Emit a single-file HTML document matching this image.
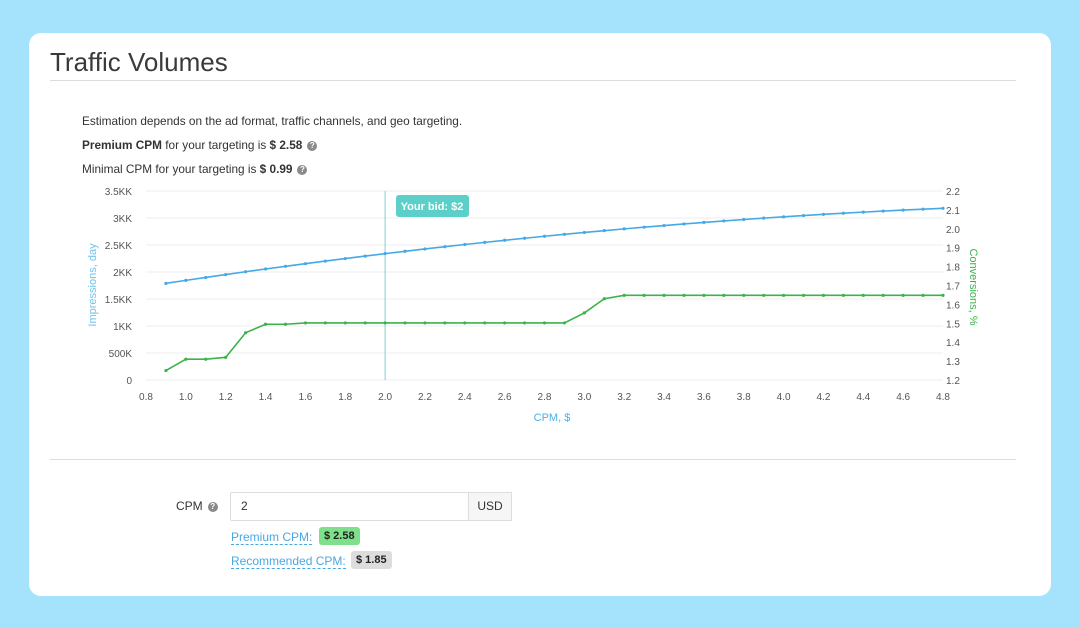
<!DOCTYPE html>
<html><head><meta charset="utf-8"><style>
body{margin:0;width:1080px;height:628px;background:#a5e3fc;font-family:"Liberation Sans",sans-serif;position:relative;overflow:hidden}
.card{position:absolute;left:29px;top:33px;width:1022px;height:563px;background:#fff;border-radius:12px}
.t{position:absolute;color:#333}
.q{display:inline-block;width:10px;height:10px;border-radius:50%;background:#8a8a8a;color:#fff;font-size:8px;line-height:10px;text-align:center;font-weight:bold;vertical-align:1px;margin-left:5px}
</style></head><body>
<div class="card"></div>
<div class="t" style="left:50px;top:47px;font-size:26px;color:#3a3a3a">Traffic Volumes</div>
<div style="position:absolute;left:50px;top:80px;width:966px;height:1px;background:#ddd"></div>
<div class="t" style="left:82px;top:114px;font-size:11.8px">Estimation depends on the ad format, traffic channels, and geo targeting.</div>
<div class="t" style="left:82px;top:138px;font-size:11.8px"><b>Premium CPM</b> for your targeting is <b>$ 2.58</b><span class="q">?</span></div>
<div class="t" style="left:82px;top:162px;font-size:11.8px">Minimal CPM for your targeting is <b>$ 0.99</b><span class="q">?</span></div>
<svg id="c" style="position:absolute;left:0;top:0" width="1080" height="628"></svg>
<div style="position:absolute;left:50px;top:459px;width:966px;height:1px;background:#ddd"></div>
<div class="t" style="left:176px;top:499px;font-size:12px">CPM<span class="q">?</span></div>
<div style="position:absolute;left:230px;top:492px;border:1px solid #ddd;border-radius:2px 0 0 2px;font-size:12px;line-height:27px;padding-left:10px;box-sizing:border-box;width:239px;height:29px;color:#333">2</div>
<div style="position:absolute;left:468px;top:492px;width:44px;height:29px;border:1px solid #ddd;background:#f6f6f6;box-sizing:border-box;font-size:12px;line-height:27px;text-align:center;color:#333">USD</div>
<div class="t" style="left:231px;top:530px;font-size:12px;color:#4aa8e0;border-bottom:1px dashed #4aa8e0">Premium CPM:</div>
<div class="t" style="left:319px;top:527px;font-size:11px;font-weight:bold;background:#7ee08a;padding:3px 5px;border-radius:3px;color:#222">$ 2.58</div>
<div class="t" style="left:231px;top:554px;font-size:12px;color:#4aa8e0;border-bottom:1px dashed #4aa8e0">Recommended CPM:</div>
<div class="t" style="left:351px;top:551px;font-size:11px;font-weight:bold;background:#ddd;padding:3px 5px;border-radius:3px;color:#222">$ 1.85</div>
<script>
var s='',X=v=>146+(v-0.8)*199.25,YL=v=>380-v*54,YR=v=>380-(v-1.2)*189;
var labs=['0','500K','1KK','1.5KK','2KK','2.5KK','3KK','3.5KK'];
for(var i=0;i<8;i++){var y=380-i*27;s+=`<line x1="146" x2="943" y1="${y}" y2="${y}" stroke="#eee"/><text x="132" y="${y+4}" text-anchor="end" font-size="10" fill="#555">${labs[i]}</text>`;
}
for(var i=0;i<11;i++){var v=(1.2+i*0.1).toFixed(1);s+=`<text x="946" y="${YR(+v)+4}" font-size="10" fill="#555">${v}</text>`}
for(var i=0;i<21;i++){var v=(0.8+i*0.2).toFixed(1);s+=`<text x="${X(+v)}" y="400" text-anchor="middle" font-size="10" fill="#555">${v}</text>`}
s+=`<line x1="${X(2)}" x2="${X(2)}" y1="191" y2="380" stroke="#7fd0d6"/>`;
s+=`<rect x="396" y="195" width="73" height="22" rx="3" fill="#5ccfc8"/><text x="432" y="210" text-anchor="middle" font-size="11" font-weight="bold" fill="#fff">Your bid: $2</text>`;
s+=`<text x="552" y="421" text-anchor="middle" font-size="11" fill="#4ab0e6">CPM, $</text>`;
s+=`<text transform="translate(96,285) rotate(-90)" text-anchor="middle" font-size="11" fill="#6fc3ee">Impressions, day</text>`;
s+=`<text transform="translate(970,287) rotate(90)" text-anchor="middle" font-size="11" fill="#3cb34a">Conversions, %</text>`;
var b=[],g=[],gv={0.9:1.25,1.0:1.31,1.1:1.31,1.2:1.32,1.3:1.45,1.4:1.495,1.5:1.495,3.0:1.555,3.1:1.63};
for(var i=0;i<40;i++){var v=+(0.9+i*0.1).toFixed(1),t=v-0.9;
var bv=1.79+0.5564*t-0.0513*t*t;
b.push([X(v),YL(bv)]);var gg=gv[v]!==undefined?gv[v]:(v<3?1.502:1.648);g.push([X(v),YR(gg)]);}
[[b,'#45a9e6'],[g,'#3cb34a']].forEach(([p,c])=>{s+=`<polyline fill="none" stroke="${c}" stroke-width="1.6" points="${p.map(a=>a.join(',')).join(' ')}"/>`;p.forEach(a=>s+=`<circle cx="${a[0]}" cy="${a[1]}" r="1.6" fill="${c}"/>`)});
document.getElementById('c').innerHTML=s;
</script>
</body></html>
